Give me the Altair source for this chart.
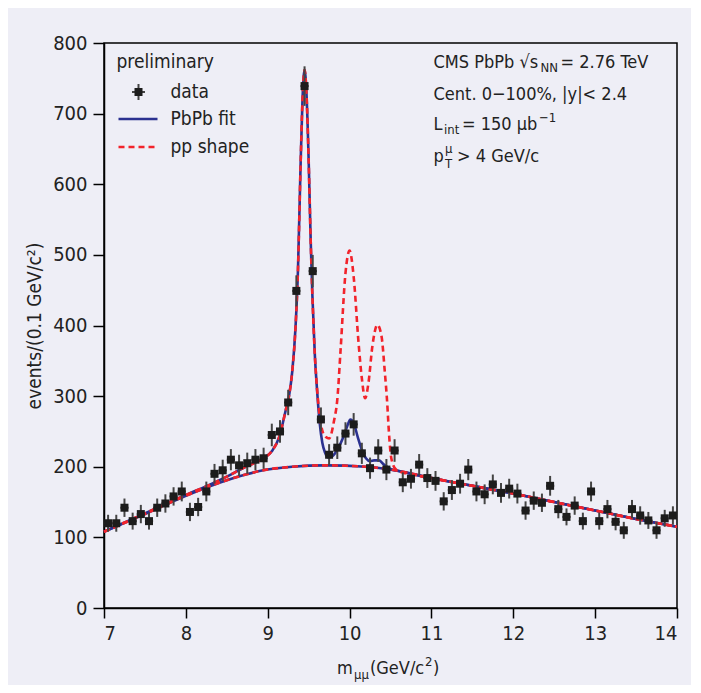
import altair as alt
import pandas as pd

# ---------------- data ----------------
mass = [7.05, 7.15, 7.25, 7.35, 7.45, 7.55, 7.65, 7.75, 7.85, 7.95,
        8.05, 8.15, 8.25, 8.35, 8.45, 8.55, 8.65, 8.75, 8.85, 8.95,
        9.05, 9.15, 9.25, 9.35, 9.45, 9.55, 9.65, 9.75, 9.85, 9.95,
        10.05, 10.15, 10.25, 10.35, 10.45, 10.55, 10.65, 10.75, 10.85, 10.95,
        11.05, 11.15, 11.25, 11.35, 11.45, 11.55, 11.65, 11.75, 11.85, 11.95,
        12.05, 12.15, 12.25, 12.35, 12.45, 12.55, 12.65, 12.75, 12.85, 12.95,
        13.05, 13.15, 13.25, 13.35, 13.45, 13.55, 13.65, 13.75, 13.85, 13.95]
counts = [120, 120, 142, 123, 133, 123, 142, 148, 158, 165,
          136, 143, 165, 190, 195, 210, 202, 205, 210, 212,
          245, 250, 291, 449, 739, 477, 267, 217, 227, 247,
          260, 219, 198, 223, 196, 223, 178, 183, 203, 184,
          180, 151, 167, 176, 196, 165, 161, 175, 163, 169,
          162, 138, 152, 149, 173, 140, 129, 145, 123, 165,
          123, 140, 122, 110, 140, 131, 124, 110, 127, 131]
errs = [12, 12, 13, 12, 13, 12, 13, 13, 13, 14,
        13, 13, 14, 14, 15, 15, 15, 15, 15, 15,
        16, 16, 18, 22, 28, 23, 17, 15, 16, 16,
        16, 15, 15, 16, 15, 16, 14, 14, 15, 14,
        14, 13, 14, 14, 15, 14, 14, 14, 14, 14,
        14, 13, 13, 13, 14, 13, 12, 13, 12, 14,
        12, 13, 12, 12, 13, 13, 12, 12, 12, 13]
bin_half = 0.05

bg_x = [7.0, 7.5, 8.0, 8.5, 8.73, 8.9, 9.3, 9.7, 10.2, 10.6, 11.0, 11.5, 12.0, 12.5, 13.0, 13.5, 14.0]
bg_y = [108, 133, 159, 181, 189, 194, 200, 202, 200, 194, 184, 173, 162, 150, 138, 126, 115]

fit_x = [7.0, 7.5, 8.0, 8.3, 8.5, 8.73, 8.85, 8.95, 9.05, 9.14, 9.22, 9.26, 9.30, 9.34, 9.37,
         9.40, 9.425, 9.45, 9.475, 9.50, 9.525, 9.545, 9.575, 9.605, 9.635, 9.667, 9.70,
         9.74, 9.80, 9.86, 9.92, 9.97, 10.01, 10.05, 10.10, 10.15, 10.20, 10.25, 10.30,
         10.36, 10.42, 10.50, 10.6, 11.0, 11.5, 12.0, 12.5, 13.0, 13.5, 14.0]
fit_y = [108, 134, 160, 175, 186, 200, 206, 212, 222, 242, 280, 300, 335, 398, 480,
         620, 720, 762, 725, 635, 520, 445, 360, 305, 262, 234, 220,
         213, 216, 226, 241, 257, 267, 262, 242, 224, 212, 208, 209,
         209, 203, 197, 194, 184, 173, 162, 150, 138, 126, 115]

pp_x = [7.0, 7.5, 8.0, 8.3, 8.5, 8.73, 8.85, 8.95, 9.05, 9.14, 9.22, 9.26, 9.30, 9.34, 9.37,
        9.40, 9.425, 9.45, 9.475, 9.50, 9.525, 9.545, 9.575, 9.605, 9.64, 9.67, 9.71,
        9.75, 9.81, 9.85, 9.89, 9.95, 10.00, 10.05, 10.11, 10.15, 10.19, 10.23, 10.28,
        10.34, 10.39, 10.43, 10.46, 10.48, 10.51, 10.56, 10.6, 11.0, 11.5, 12.0, 12.5,
        13.0, 13.5, 14.0]
pp_y = [108, 134, 160, 175, 186, 200, 206, 212, 222, 242, 280, 300, 335, 398, 480,
        620, 720, 762, 725, 635, 520, 445, 360, 307, 268, 250, 242,
        240, 265, 295, 365, 474, 506, 469, 375, 325, 297, 318, 372,
        401, 385, 335, 290, 250, 212, 197, 194, 184, 173, 162, 150,
        138, 126, 115]

x_ticks = [7, 8, 9, 10, 11, 12, 13, 14]
y_ticks = [0, 100, 200, 300, 400, 500, 600, 700, 800]

# ---------------- styling ----------------
BLUE = "#2b3190"
RED = "#f2232b"
BG = "#eeeef6"
NARROW = "DejaVu Sans Condensed, sans-serif"
TXT = "#222222"
W, H = 573, 565

pts = pd.DataFrame({"m": mass, "n": counts, "e": errs})
pts["lo"] = pts["n"] - pts["e"]
pts["hi"] = pts["n"] + pts["e"]
pts["xl"] = pts["m"] - bin_half
pts["xr"] = pts["m"] + bin_half

xs = alt.Scale(domain=[7, 14], nice=False, zero=False)
ys = alt.Scale(domain=[0, 800], nice=False)

xaxis = alt.Axis(values=x_ticks, format="d", title=None, grid=False, labelFontSize=20,
                 labelFont=NARROW, labelColor=TXT, tickSize=10, tickWidth=1.5,
                 tickColor="black", domainColor="black", domainWidth=1.5, labelPadding=5)
yaxis = alt.Axis(values=y_ticks, format="d", title="events/(0.1 GeV/c²)", grid=False,
                 labelFontSize=20, labelFont=NARROW, labelColor=TXT, tickSize=11,
                 tickWidth=1.5, tickColor="black", domainColor="black", domainWidth=1.5,
                 labelPadding=6, titleFont=NARROW, titleFontSize=19,
                 titleFontWeight="normal", titleColor=TXT, titlePadding=8)


def curve(xv, yv, color, dash=None):
    df = pd.DataFrame({"x": xv, "y": yv})
    kw = dict(color=color, strokeWidth=2.6, interpolate="monotone")
    if dash:
        kw["strokeDash"] = dash
    return alt.Chart(df).mark_line(**kw).encode(
        x=alt.X("x:Q", scale=xs, axis=xaxis), y=alt.Y("y:Q", scale=ys, axis=yaxis))


bg_blue = curve(bg_x, bg_y, BLUE)
fit_blue = curve(fit_x, fit_y, BLUE)
pp_red = curve(pp_x, pp_y, RED, [6, 4])
bg_red = curve(bg_x, bg_y, RED, [6, 4])

base = alt.Chart(pts)
vbar = base.mark_rule(color="#444", strokeWidth=2).encode(
    x=alt.X("m:Q", scale=xs), y=alt.Y("lo:Q", scale=ys), y2="hi:Q")
hbar = base.mark_rule(color="#444", strokeWidth=2).encode(
    x=alt.X("xl:Q", scale=xs), x2="xr:Q", y=alt.Y("n:Q", scale=ys))
sq = base.mark_square(color="#1c1c1c", size=64, opacity=1).encode(
    x=alt.X("m:Q", scale=xs), y=alt.Y("n:Q", scale=ys))


def txt(s, x, y, size=18, font=NARROW, baseline="middle", align="left"):
    return alt.Chart(pd.DataFrame({"t": [s]})).mark_text(
        font=font, fontSize=size, color=TXT, baseline=baseline, align=align
    ).encode(x=alt.value(x), y=alt.value(y), text="t:N")


def rule(x1, x2, y1, y2, color, width=2.6, dash=None):
    kw = dict(color=color, strokeWidth=width)
    if dash:
        kw["strokeDash"] = dash
    return alt.Chart(pd.DataFrame({"a": [0]})).mark_rule(**kw).encode(
        x=alt.value(x1), x2=alt.value(x2), y=alt.value(y1), y2=alt.value(y2))


legend = [
    txt("preliminary", 12.5, 19, size=19),
    rule(34.5, 34.5, 41, 57, "#444", width=2),
    rule(28, 41, 49, 49, "#444", width=2),
    alt.Chart(pd.DataFrame({"a": [0]})).mark_square(color="#1c1c1c", size=64, opacity=1).encode(
        x=alt.value(34.5), y=alt.value(49)),
    txt("data", 66.5, 49, size=19),
    rule(14.5, 53.5, 76, 76, BLUE),
    txt("PbPb fit", 66.5, 76, size=19),
    rule(14.5, 53.5, 104, 104, RED, dash=[6, 4]),
    txt("pp shape", 66.5, 104, size=19),
]

L = 329.5
annot = [
    txt("CMS PbPb \u221As", L, 20),
    txt("NN", 436.5, 25, size=13),
    txt("= 2.76 TeV", 456.5, 20),
    txt("Cent. 0\u2212100%,  |y|< 2.4", L, 52),
    txt("L", L, 82),
    txt("int", 340, 87, size=13),
    txt("= 150 \u03bcb", 358, 82),
    txt("\u22121", 435, 75, size=13),
    txt("p", L, 114),
    txt("\u03bc", 341, 106, size=13),
    txt("T", 341, 121, size=13),
    txt("> 4 GeV/c", 353, 114),
]

xtitle = [
    txt("m", 233, 626, size=18),
    txt("\u03bc\u03bc", 250, 632, size=13),
    txt("(GeV/c", 266, 626, size=18),
    txt("2", 321, 619, size=13),
    txt(")", 329, 626, size=18),
]

chart = alt.layer(
    bg_blue, fit_blue, pp_red, bg_red, vbar, hbar, sq, *legend, *annot, *xtitle
).properties(
    width=W, height=H,
    padding={"left": 96, "top": 35, "right": 14, "bottom": 77},
    autosize=alt.AutoSizeParams(type="none"),
    background=BG,
).configure_view(stroke="black", strokeWidth=1.5)

chart.save("out.html", embed_options={"renderer": "svg", "actions": False})
